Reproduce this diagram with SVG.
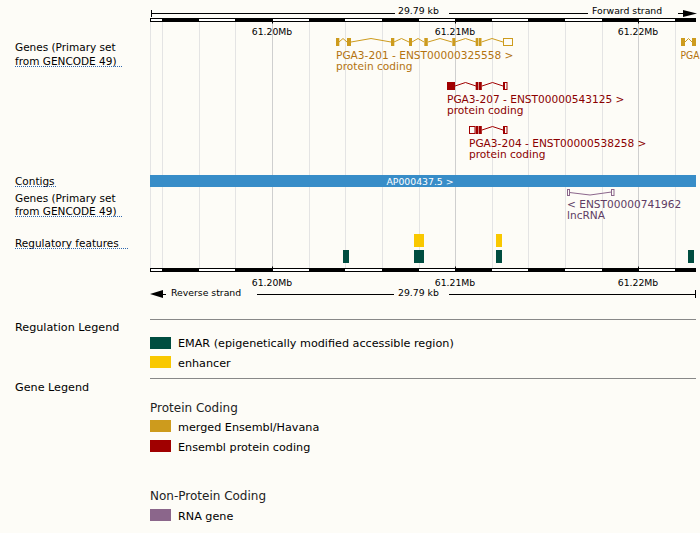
<svg xmlns="http://www.w3.org/2000/svg" width="700" height="533" viewBox="0 0 700 533">
<style>
text{font-family:"DejaVu Sans","Liberation Sans",sans-serif}
.lbl{font-size:10.5px;fill:#000}
.rl{font-size:9.3px;fill:#000}
.lg{font-size:11.2px;fill:#000}
.lh{font-size:12px;fill:#222}
.ul{stroke:#2f68b0;stroke-width:1;stroke-dasharray:1,1;fill:none}
.g{stroke:#e4e4e4;stroke-width:1}
.gm{stroke:#cfcfcf;stroke-width:1}
.bk{fill:#000}
.mg{fill:#cd9b1d}
.mgs{fill:none;stroke:#cd9b1d;stroke-width:1}
.mgt{font-size:10.6px;fill:#b3730f}
.pc{fill:#a00000}
.pcs{fill:none;stroke:#a00000;stroke-width:1}
.pct{font-size:10.6px;fill:#8b0000}
.rn{fill:none;stroke:#8b668b;stroke-width:1}
.rnt{font-size:10.6px;fill:#5e3c64}
.emar{fill:#004d40}
.enh{fill:#f9c800}
.sep{stroke:#888;stroke-width:1}
</style>
<rect width="700" height="533" fill="#fdfcf7"/>

<g id="grid">
<line class="g" x1="150.5" y1="22" x2="150.5" y2="268"/>
<line class="g" x1="162.5" y1="22" x2="162.5" y2="268"/>
<line class="g" x1="199.5" y1="22" x2="199.5" y2="268"/>
<line class="g" x1="235.5" y1="22" x2="235.5" y2="268"/>
<line class="gm" x1="272.5" y1="22" x2="272.5" y2="268"/>
<line class="g" x1="309.5" y1="22" x2="309.5" y2="268"/>
<line class="g" x1="345.5" y1="22" x2="345.5" y2="268"/>
<line class="g" x1="382.5" y1="22" x2="382.5" y2="268"/>
<line class="g" x1="419.5" y1="22" x2="419.5" y2="268"/>
<line class="gm" x1="455.5" y1="22" x2="455.5" y2="268"/>
<line class="g" x1="492.5" y1="22" x2="492.5" y2="268"/>
<line class="g" x1="528.5" y1="22" x2="528.5" y2="268"/>
<line class="g" x1="565.5" y1="22" x2="565.5" y2="268"/>
<line class="g" x1="602.5" y1="22" x2="602.5" y2="268"/>
<line class="gm" x1="638.5" y1="22" x2="638.5" y2="268"/>
<line class="g" x1="675.5" y1="22" x2="675.5" y2="268"/>
</g>

<g id="scale-top">
<line x1="151.5" y1="10" x2="151.5" y2="17" stroke="#000"/>
<line x1="151" y1="13.5" x2="395" y2="13.5" stroke="#000"/>
<text class="rl" x="398" y="14">29.79 kb</text>
<line x1="449" y1="13.5" x2="588" y2="13.5" stroke="#000"/>
<text class="rl" x="592" y="14">Forward strand</text>
<line x1="678" y1="13.5" x2="684" y2="13.5" stroke="#000"/>
<polygon points="683,10 697,13.5 683,17" fill="#000"/>
</g>

<g id="ruler-top">
<rect x="150.5" y="18.5" width="545" height="3" fill="#fff" stroke="#000"/>
<rect class="bk" x="162" y="18" width="37" height="4"/>
<rect class="bk" x="235" y="18" width="37" height="4"/>
<rect class="bk" x="309" y="18" width="36" height="4"/>
<rect class="bk" x="382" y="18" width="37" height="4"/>
<rect class="bk" x="455" y="18" width="37" height="4"/>
<rect class="bk" x="528" y="18" width="37" height="4"/>
<rect class="bk" x="602" y="18" width="36" height="4"/>
<rect class="bk" x="675" y="18" width="21" height="4"/>
<line x1="272.5" y1="18" x2="272.5" y2="23.5" stroke="#000"/>
<line x1="455.5" y1="18" x2="455.5" y2="23.5" stroke="#000"/>
<line x1="638.5" y1="18" x2="638.5" y2="23.5" stroke="#000"/>
<text class="rl" x="272" y="35" text-anchor="middle">61.20Mb</text>
<text class="rl" x="455" y="35" text-anchor="middle">61.21Mb</text>
<text class="rl" x="638" y="35" text-anchor="middle">61.22Mb</text>
</g>

<g id="track-labels">
<text class="lbl" x="15" y="51">Genes (Primary set</text>
<text class="lbl" x="15" y="64.5">from GENCODE 49)</text>
<line class="ul" x1="15" y1="66.5" x2="122" y2="66.5"/>
<text class="lbl" x="15" y="184.5">Contigs</text>
<line class="ul" x1="15" y1="186.5" x2="57" y2="186.5"/>
<text class="lbl" x="15" y="201.5">Genes (Primary set</text>
<text class="lbl" x="15" y="215">from GENCODE 49)</text>
<line class="ul" x1="15" y1="216.5" x2="122" y2="216.5"/>
<text class="lbl" x="15" y="247">Regulatory features</text>
<line class="ul" x1="15" y1="248.5" x2="128" y2="248.5"/>
</g>

<g id="gene-PGA3-201">
<polyline class="mgs" points="339,42 343,38.5 347,42"/>
<polyline class="mgs" points="351,42 371,38.5 391,42"/>
<polyline class="mgs" points="394,42 401.5,38.5 409,42"/>
<polyline class="mgs" points="412,42 418,38.5 424,42"/>
<polyline class="mgs" points="428,42 440,38.5 452,42"/>
<polyline class="mgs" points="455,42 465.5,38.5 476,42"/>
<polyline class="mgs" points="481.5,42 492,38.5 503,42"/>
<rect class="mg" x="336" y="38" width="3.3" height="8"/>
<rect class="mg" x="347" y="38" width="4" height="8"/>
<rect class="mg" x="391" y="38" width="3.3" height="8"/>
<rect class="mg" x="409" y="38" width="3" height="8"/>
<rect class="mg" x="424.3" y="38" width="3.5" height="8"/>
<rect class="mg" x="452.3" y="38" width="3" height="8"/>
<rect class="mg" x="475.7" y="38" width="2.6" height="8"/>
<rect class="mg" x="478.8" y="38" width="2.7" height="8"/>
<rect class="mgs" x="503.5" y="38.5" width="9" height="7"/>
<text class="mgt" x="336" y="58.5">PGA3-201 - ENST00000325558 &gt;</text>
<text class="mgt" x="336" y="69.5">protein coding</text>
</g>

<g id="gene-PGA-edge">
<polyline class="mgs" points="685,42 688.5,38.5 692,42"/>
<rect class="mg" x="681" y="38" width="4" height="8"/>
<rect class="mg" x="692" y="38" width="4" height="8"/>
<text class="mgt" x="680.5" y="58.5" font-size="9.4" textLength="19" lengthAdjust="spacingAndGlyphs">PGA</text>
</g>

<g id="gene-PGA3-207">
<polyline class="pcs" points="455,86 465.5,82.5 476,86"/>
<polyline class="pcs" points="482,86 492.5,82.5 503,86"/>
<rect class="pc" x="447" y="82" width="8" height="8"/>
<rect class="pc" x="475.7" y="82" width="2.6" height="8"/>
<rect class="pc" x="478.8" y="82" width="3" height="8"/>
<rect class="pcs" x="503.5" y="82.5" width="3.5" height="7"/>
<rect class="pc" x="503" y="82" width="2" height="8"/>
<text class="pct" x="447" y="102.5">PGA3-207 - ENST00000543125 &gt;</text>
<text class="pct" x="447" y="113.5">protein coding</text>
</g>

<g id="gene-PGA3-204">
<polyline class="pcs" points="482,130 492.5,126.5 503,130"/>
<rect class="pcs" x="469.5" y="126.5" width="5.5" height="7"/>
<rect class="pc" x="475.7" y="126" width="2.6" height="8"/>
<rect class="pc" x="478.8" y="126" width="3" height="8"/>
<rect class="pcs" x="503.5" y="126.5" width="3.5" height="7"/>
<rect class="pc" x="503" y="126" width="2" height="8"/>
<text class="pct" x="469" y="146.5">PGA3-204 - ENST00000538258 &gt;</text>
<text class="pct" x="469" y="157.5">protein coding</text>
</g>

<g id="contig-AP000437.5">
<rect x="150" y="175" width="546" height="12" fill="#388dc8"/>
<text x="420" y="184.5" text-anchor="middle" font-size="9.3" fill="#fff">AP000437.5 &gt;</text>
</g>

<g id="gene-ENST00000741962">
<polyline class="rn" points="569.5,192.5 590,195 611.5,192"/>
<rect class="rn" x="567.5" y="189.5" width="2" height="6"/>
<rect class="rn" x="611.5" y="189.5" width="2.5" height="6"/>
<text class="rnt" x="567" y="208">&lt; ENST00000741962</text>
<text class="rnt" x="567" y="219">lncRNA</text>
</g>

<g id="regulatory-features">
<rect class="enh" x="414" y="234" width="10" height="13"/>
<rect class="enh" x="496" y="234" width="6" height="13"/>
<rect class="emar" x="343" y="250" width="6" height="13"/>
<rect class="emar" x="414" y="250" width="10" height="13"/>
<rect class="emar" x="496" y="250" width="6" height="13"/>
<rect class="emar" x="688" y="250" width="6" height="13"/>
</g>

<g id="ruler-bottom">
<rect x="150.5" y="268.5" width="545" height="3" fill="#fff" stroke="#000"/>
<rect class="bk" x="162" y="268" width="37" height="4"/>
<rect class="bk" x="235" y="268" width="37" height="4"/>
<rect class="bk" x="309" y="268" width="36" height="4"/>
<rect class="bk" x="382" y="268" width="37" height="4"/>
<rect class="bk" x="455" y="268" width="37" height="4"/>
<rect class="bk" x="528" y="268" width="37" height="4"/>
<rect class="bk" x="602" y="268" width="36" height="4"/>
<rect class="bk" x="675" y="268" width="21" height="4"/>
<line x1="272.5" y1="266.5" x2="272.5" y2="272" stroke="#000"/>
<line x1="455.5" y1="266.5" x2="455.5" y2="272" stroke="#000"/>
<line x1="638.5" y1="266.5" x2="638.5" y2="272" stroke="#000"/>
<text class="rl" x="272" y="286" text-anchor="middle">61.20Mb</text>
<text class="rl" x="455" y="286" text-anchor="middle">61.21Mb</text>
<text class="rl" x="638" y="286" text-anchor="middle">61.22Mb</text>
</g>

<g id="scale-bottom">
<polygon points="150,294 163,290 163,298" fill="#000"/>
<line x1="162" y1="294.5" x2="166" y2="294.5" stroke="#000"/>
<text class="rl" x="171" y="296">Reverse strand</text>
<line x1="257" y1="294.5" x2="394" y2="294.5" stroke="#000"/>
<text class="rl" x="398" y="296">29.79 kb</text>
<line x1="449" y1="294.5" x2="696" y2="294.5" stroke="#000"/>
<line x1="695.5" y1="290" x2="695.5" y2="298" stroke="#000"/>
</g>

<g id="regulation-legend">
<line class="sep" x1="150" y1="319.5" x2="696" y2="319.5"/>
<text class="lg" x="15" y="331">Regulation Legend</text>
<rect class="emar" x="150" y="337" width="21" height="12"/>
<text class="lg" x="178" y="347">EMAR (epigenetically modified accessible region)</text>
<rect class="enh" x="150" y="356" width="21" height="12"/>
<text class="lg" x="178" y="366.5">enhancer</text>
<line class="sep" x1="150" y1="378.5" x2="696" y2="378.5"/>
</g>

<g id="gene-legend">
<text class="lg" x="15" y="391">Gene Legend</text>
<text class="lh" x="150" y="412">Protein Coding</text>
<rect class="mg" x="150" y="420" width="21" height="12"/>
<text class="lg" x="178" y="431">merged Ensembl/Havana</text>
<rect class="pc" x="150" y="440" width="21" height="12"/>
<text class="lg" x="178" y="451">Ensembl protein coding</text>
<text class="lh" x="150" y="499.5">Non-Protein Coding</text>
<rect x="150" y="509" width="21" height="12" fill="#8b668b"/>
<text class="lg" x="178" y="520">RNA gene</text>
</g>
</svg>
